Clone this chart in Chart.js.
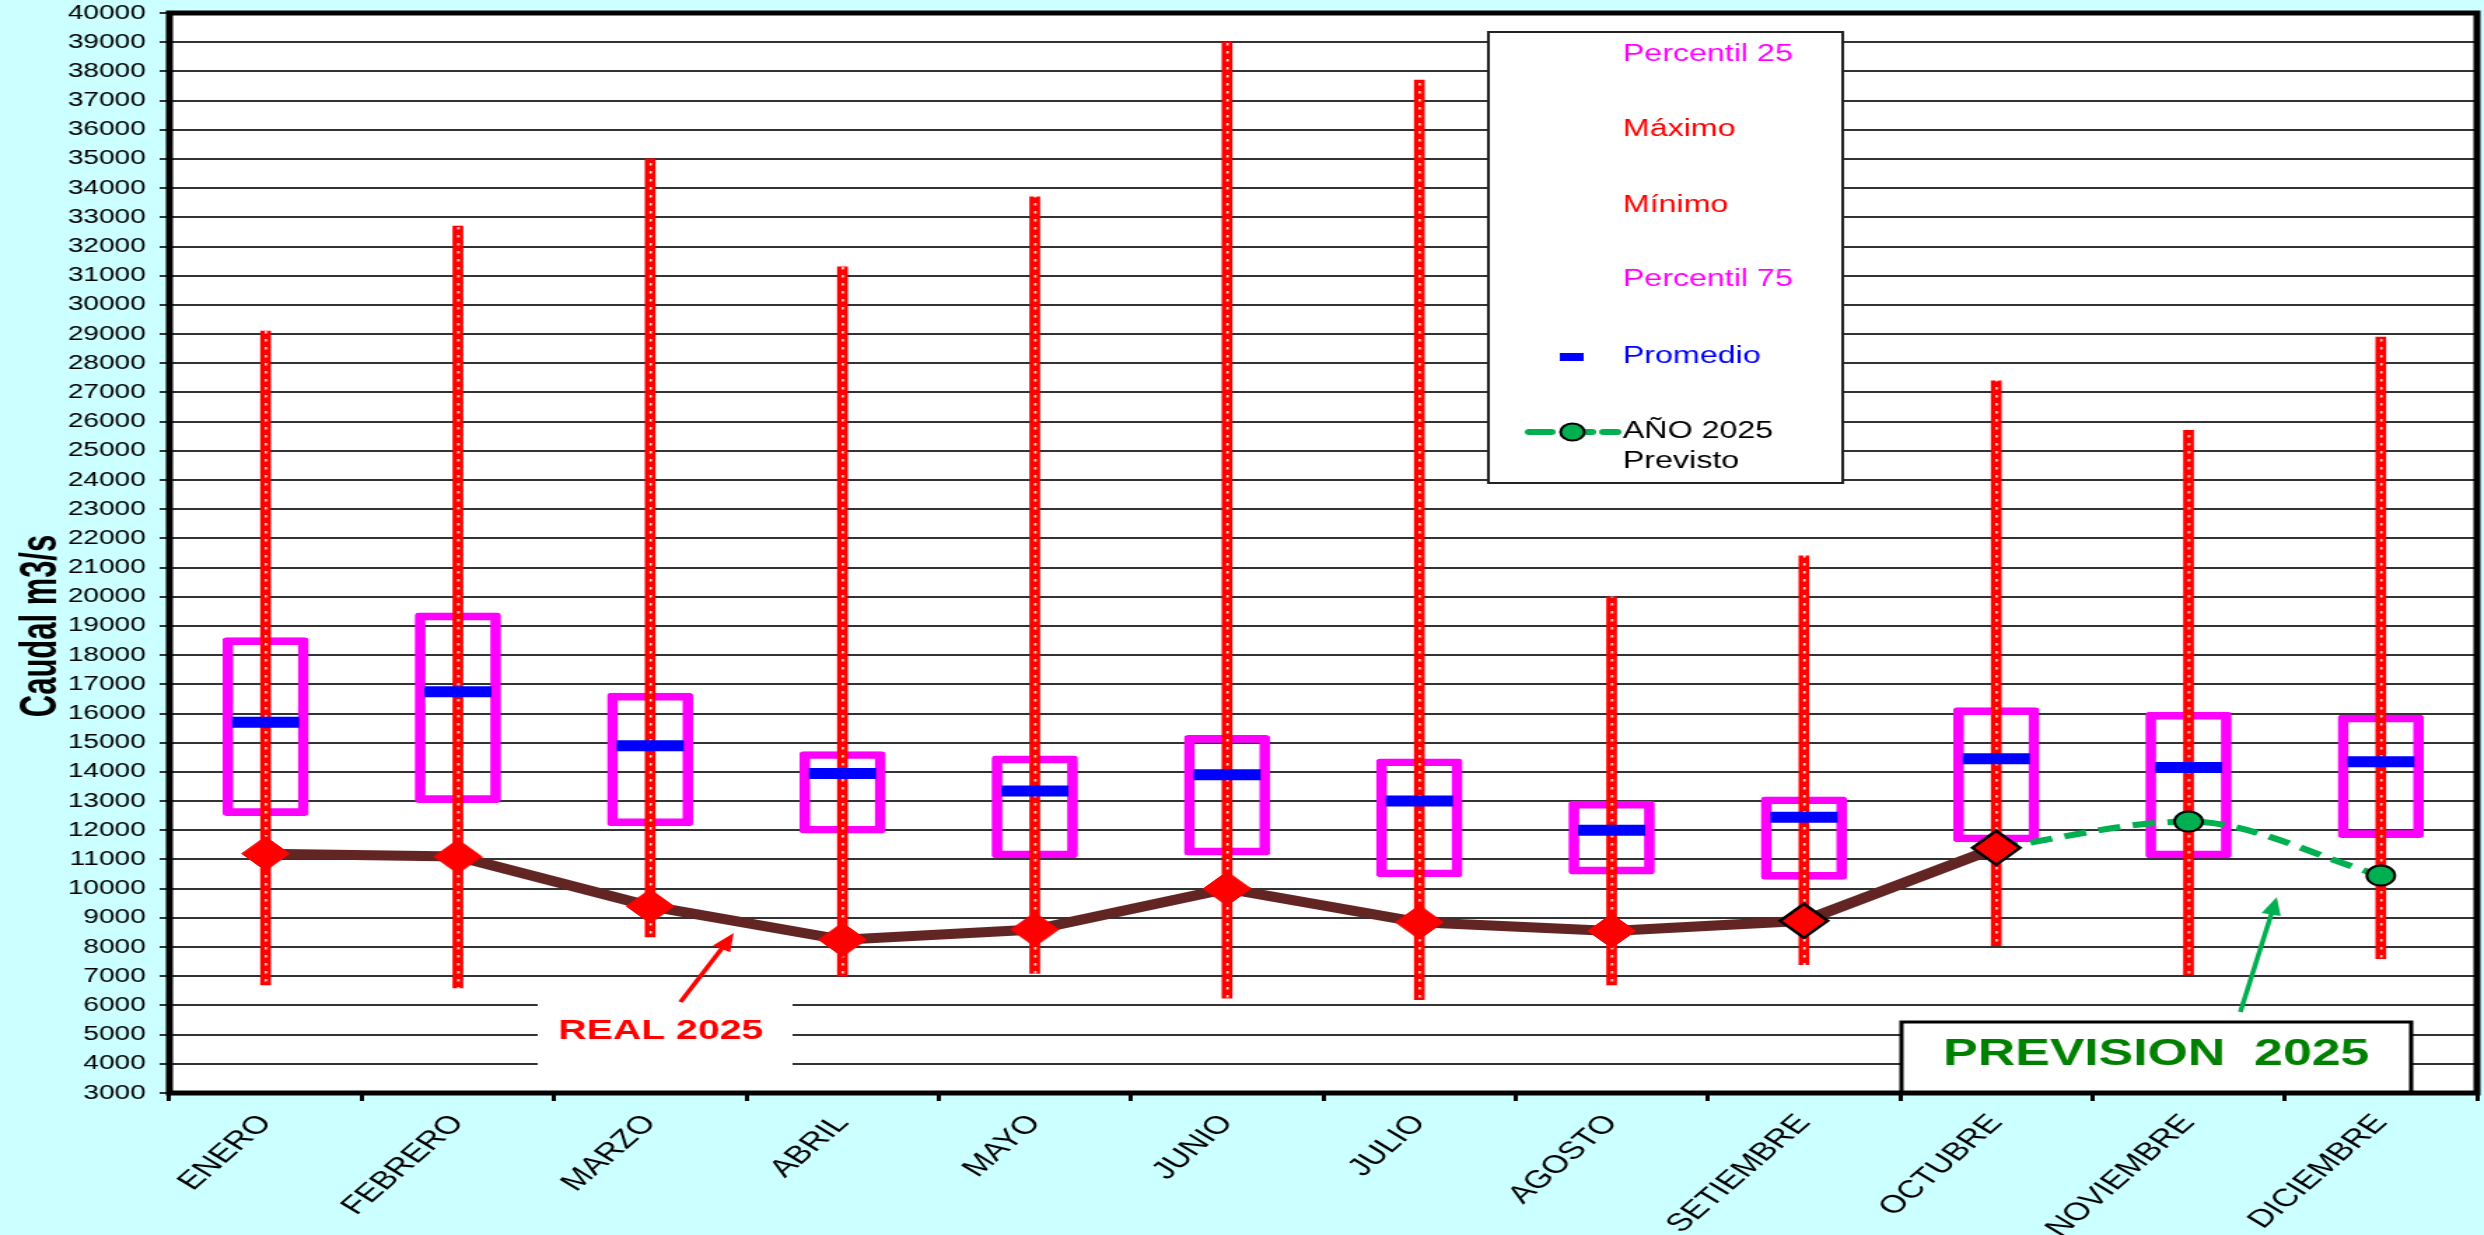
<!DOCTYPE html>
<html>
<head>
<meta charset="utf-8">
<script src="https://cdn.jsdelivr.net/npm/chart.js@4.4.1/dist/chart.umd.min.js"></script>
<style>
    html, body { margin: 0; padding: 0; background: #CCFFFF; overflow: hidden; }
    /* the reference is stretched sideways, so the canvas is too */
    #wrap { width: 1774px; height: 1235px; transform: scale(1.4002, 1); transform-origin: 0 0; }
</style>
</head>
<body>
<div id="wrap"><canvas id="graficoCaudal"></canvas></div>
<script>
const meses = ['ENERO', 'FEBRERO', 'MARZO', 'ABRIL', 'MAYO', 'JUNIO', 'JULIO', 'AGOSTO', 'SETIEMBRE', 'OCTUBRE', 'NOVIEMBRE', 'DICIEMBRE'];
const maximo = [29100, 32700, 35000, 31300, 33700, 39000, 37700, 20000, 21400, 27400, 25700, 28900];
const minimo = [6700, 6600, 8350, 7000, 7100, 6250, 6200, 6700, 7400, 8050, 7050, 7600];
const percentil75 = [18600, 19450, 16700, 14700, 14550, 15250, 14450, 13000, 13150, 16200, 16050, 15950];
const percentil25 = [12500, 12950, 12150, 11900, 11050, 11150, 10400, 10500, 10320, 11600, 11050, 11750];
const promedio = [15700, 16750, 14900, 13950, 13350, 13900, 13000, 12000, 12450, 14450, 14150, 14350];
const real2025 = [11200, 11100, 9400, 8250, 8600, 10000, 8850, 8550, 8900, 11400, null, null];
const previsto2025 = [null, null, null, null, null, null, null, null, null, 11400, 12300, 10450];
const yMin = 3000, yMax = 40000, yPaso = 1000;

const fuente = "'Liberation Sans', Arial, sans-serif";

// red bar with little white dots, centred on each bar
function patronPuntos(ctx, x) {
    const c = document.createElement('canvas');
    c.width = 7; c.height = 8;
    const p = c.getContext('2d');
    p.fillStyle = '#FF0000';
    p.fillRect(0, 0, 7, 8);
    p.fillStyle = '#FFFFFF';
    p.fillRect(3, 3, 1.5, 2.5);
    const pat = ctx.createPattern(c, 'repeat');
    pat.setTransform(new DOMMatrix().translate(x - 3.5, 0));
    return pat;
}

function flecha(ctx, x1, y1, x2, y2, color) {
    const ang = Math.atan2(y2 - y1, x2 - x1);
    const L = 18, W = 7;
    ctx.strokeStyle = color;
    ctx.lineWidth = 3.5;
    ctx.beginPath();
    ctx.moveTo(x1, y1);
    ctx.lineTo(x2 - L * 0.8 * Math.cos(ang), y2 - L * 0.8 * Math.sin(ang));
    ctx.stroke();
    ctx.fillStyle = color;
    ctx.beginPath();
    ctx.moveTo(x2, y2);
    ctx.lineTo(x2 - L * Math.cos(ang) + W * Math.sin(ang), y2 - L * Math.sin(ang) - W * Math.cos(ang));
    ctx.lineTo(x2 - L * Math.cos(ang) - W * Math.sin(ang), y2 - L * Math.sin(ang) + W * Math.cos(ang));
    ctx.closePath();
    ctx.fill();
}

const fondo = {
    id: 'fondo',
    beforeDraw(chart) {
        const { ctx, chartArea: a } = chart;
        ctx.save();
        ctx.fillStyle = '#CCFFFF';
        ctx.fillRect(0, 0, chart.width, chart.height);
        ctx.fillStyle = '#FFFFFF';
        ctx.fillRect(a.left, a.top, a.right - a.left, a.bottom - a.top);
        ctx.restore();
    }
};

const extras = {
    id: 'extras',
    afterDraw(chart) {
        const { ctx, chartArea: a } = chart;
        ctx.save();

        // REAL 2025 label
        ctx.fillStyle = '#FFFFFF';
        ctx.fillRect(384, 986, 182, a.bottom - 988);
        ctx.fillStyle = '#FF0000';
        ctx.font = 'bold 28px ' + fuente;
        ctx.textAlign = 'center';
        ctx.textBaseline = 'middle';
        ctx.fillText('REAL 2025', 472, 1031);
        flecha(ctx, 486, 1002, 524, 933, '#FF0000');

        // PREVISION 2025 label
        ctx.fillStyle = '#FFFFFF';
        ctx.fillRect(1358, 1022, 364, a.bottom - 1022);
        ctx.strokeStyle = '#000000';
        ctx.lineWidth = 3;
        ctx.strokeRect(1358, 1022, 364, a.bottom - 1022);
        ctx.fillStyle = '#008000';
        ctx.font = 'bold 37px ' + fuente;
        ctx.fillText('PREVISION  2025', 1540, 1055);
        flecha(ctx, 1600, 1012, 1626, 897, '#00B050');

        // legend
        ctx.fillStyle = '#FFFFFF';
        ctx.fillRect(1063, 32, 253, 451);
        ctx.strokeStyle = '#222222';
        ctx.lineWidth = 2;
        ctx.strokeRect(1063, 32, 253, 451);
        ctx.font = '23px ' + fuente;
        ctx.textAlign = 'left';
        const filas = [
            ['Percentil 25', '#FF00FF', 55],
            ['Máximo', '#FF0000', 130],
            ['Mínimo', '#FF0000', 206],
            ['Percentil 75', '#FF00FF', 280],
            ['Promedio', '#0000FF', 357],
            ['AÑO 2025', '#000000', 432],
            ['Previsto', '#000000', 462]
        ];
        filas.forEach(f => {
            ctx.fillStyle = f[1];
            ctx.fillText(f[0], 1159, f[2]);
        });
        ctx.fillStyle = '#0000FF';
        ctx.fillRect(1114, 353, 17, 8);
        ctx.strokeStyle = '#00B050';
        ctx.lineWidth = 6;
        ctx.lineCap = 'round';
        [[1092, 1108], [1131, 1137], [1145, 1155]].forEach(s => {
            ctx.beginPath();
            ctx.moveTo(s[0], 432);
            ctx.lineTo(s[1], 432);
            ctx.stroke();
        });
        ctx.lineCap = 'butt';
        ctx.beginPath();
        ctx.arc(1123, 432, 8.5, 0, Math.PI * 2);
        ctx.fillStyle = '#00B050';
        ctx.fill();
        ctx.strokeStyle = '#000000';
        ctx.lineWidth = 2;
        ctx.stroke();

        // axis title
        ctx.save();
        ctx.translate(40, 626);
        ctx.rotate(-Math.PI / 2);
        ctx.scale(0.86, 1);
        ctx.fillStyle = '#000000';
        ctx.font = 'bold 36px ' + fuente;
        ctx.textAlign = 'center';
        ctx.textBaseline = 'alphabetic';
        ctx.fillText('Caudal m3/s', 0, 0);
        ctx.restore();

        // thick frame round the plot
        ctx.strokeStyle = '#000000';
        ctx.lineWidth = 5;
        ctx.strokeRect(a.left, a.top, a.right - a.left, a.bottom - a.top);
        ctx.restore();
    }
};

new Chart(document.getElementById('graficoCaudal'), {
    type: 'bar',
    data: {
        labels: meses,
        datasets: [
            {
                type: 'line',
                label: 'REAL 2025',
                data: real2025,
                borderColor: '#632523',
                borderWidth: 10,
                tension: 0,
                pointStyle: 'rectRot',
                pointRadius: 17,
                pointBackgroundColor: '#FF0000',
                pointBorderColor: meses.map((m, i) => i >= 8 ? '#000000' : '#FF0000'),
                pointBorderWidth: meses.map((m, i) => i >= 8 ? 2.5 : 1),
                order: 1
            },
            {
                type: 'line',
                label: 'AÑO 2025 Previsto',
                data: previsto2025,
                borderColor: '#00B050',
                borderWidth: 6,
                borderDash: [16, 9],
                cubicInterpolationMode: 'monotone',
                pointRadius: meses.map((m, i) => i < 10 ? 0 : 10),
                pointBackgroundColor: '#00B050',
                pointBorderColor: '#000000',
                pointBorderWidth: 2,
                order: 2
            },
            {
                type: 'line',
                label: 'Promedio',
                data: promedio,
                showLine: false,
                pointStyle: 'line',
                pointRadius: 24,
                pointBorderWidth: 11,
                pointBorderColor: '#0000FF',
                borderColor: '#0000FF',
                order: 3
            },
            {
                label: 'Mínimo - Máximo',
                data: meses.map((m, i) => [minimo[i], maximo[i]]),
                backgroundColor: (c) => {
                    if (!c.chart.chartArea || c.dataIndex === undefined) return '#FF0000';
                    return patronPuntos(c.chart.ctx, c.chart.scales.x.getPixelForValue(c.dataIndex));
                },
                borderWidth: 0,
                barThickness: 7,
                grouped: false,
                order: 4
            },
            {
                label: 'Percentil 25 - 75',
                data: meses.map((m, i) => [percentil25[i], percentil75[i]]),
                backgroundColor: 'rgba(0,0,0,0)',
                borderColor: '#FF00FF',
                borderWidth: 7,
                borderSkipped: false,
                borderRadius: 3,
                barThickness: 61,
                grouped: false,
                order: 5
            }
        ]
    },
    options: {
        responsive: true,
        maintainAspectRatio: false,
        devicePixelRatio: 1,
        animation: false,
        events: [],
        layout: { autoPadding: false, padding: { top: 13, right: 5, left: 0, bottom: 0 } },
        plugins: {
            legend: { display: false },
            tooltip: { enabled: false }
        },
        scales: {
            x: {
                offset: true,
                border: { display: false },
                grid: { offset: true, drawOnChartArea: false, drawTicks: true, tickLength: 8, color: '#000000', lineWidth: 3 },
                ticks: {
                    autoSkip: false,
                    minRotation: 50,
                    maxRotation: 50,
                    padding: 8,
                    color: '#000000',
                    font: { family: fuente, size: 25 }
                },
                afterFit(scale) {
                    scale.height = 142;
                    scale.paddingLeft = 0;
                    scale.paddingRight = 0;
                }
            },
            y: {
                min: yMin,
                max: yMax,
                border: { display: false },
                grid: { color: '#333333', lineWidth: 2, tickLength: 7 },
                ticks: {
                    stepSize: yPaso,
                    autoSkip: false,
                    padding: 10,
                    color: '#000000',
                    font: { family: fuente, size: 20 },
                    callback: (v) => String(v)
                },
                afterFit(scale) {
                    scale.width = 121;
                    scale.paddingTop = 0;
                    scale.paddingBottom = 0;
                }
            }
        }
    },
    plugins: [fondo, extras]
});
</script>
</body>
</html>
